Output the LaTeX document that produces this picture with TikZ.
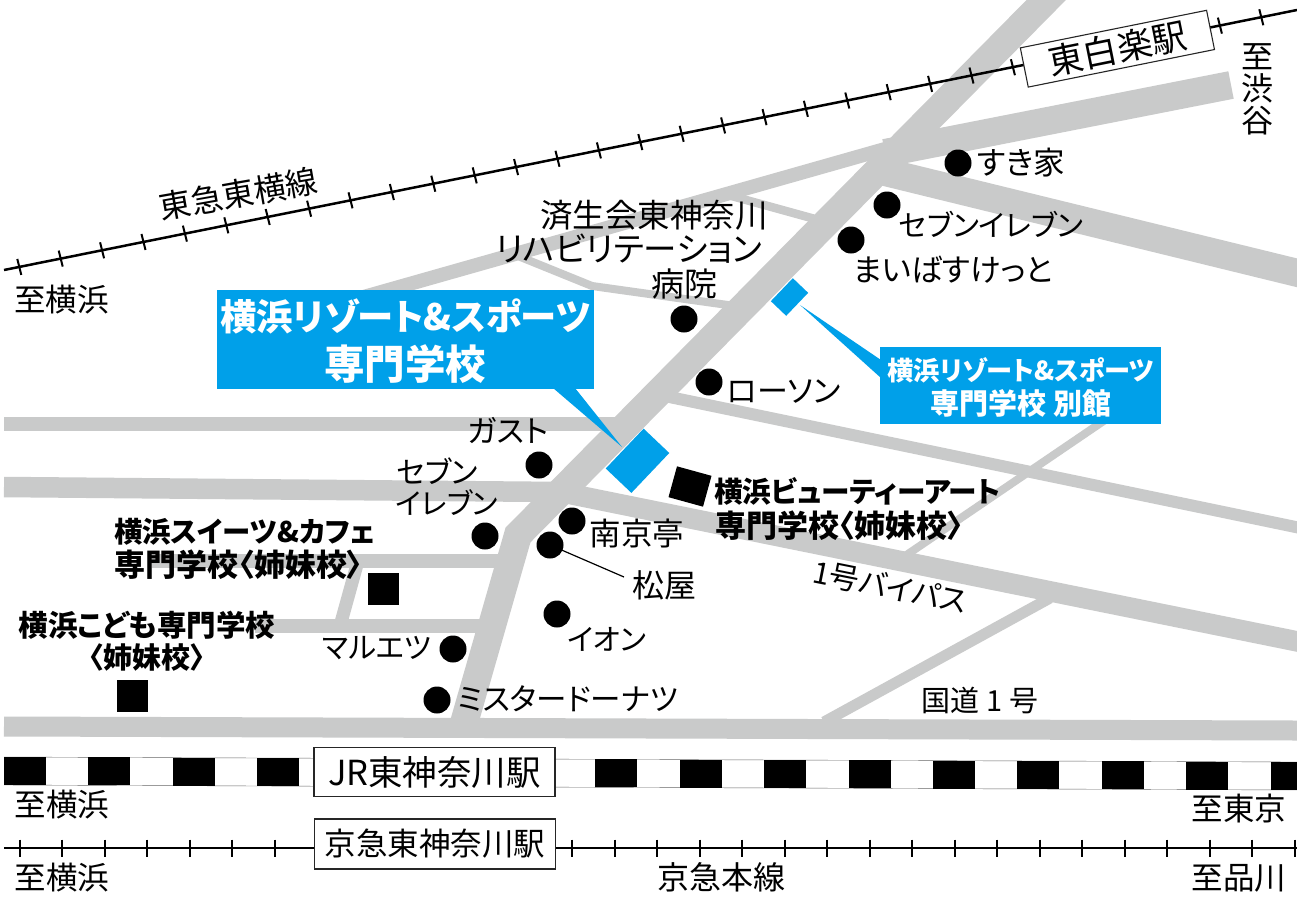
\documentclass[tikz,border=0pt]{standalone}
\usepackage{fontspec}
\setmainfont{Noto Sans CJK JP}[RawFeature={+palt}]
\definecolor{roadgray}{HTML}{C9CACA}
\definecolor{schoolblue}{HTML}{00A0E9}
\tikzset{
	road/.style={draw=roadgray,line width=#1,line join=miter,line cap=butt},
	lbl/.style={inner sep=0pt,font=\fontsize{#1}{#1}\selectfont},
	lblb/.style={inner sep=0pt,font=\fontsize{#1}{#1}\selectfont\bfseries},
	lblw/.style={lblb=#1,text=white},
	spot/.style={circle,fill=black,minimum size=27,inner sep=0pt},
	school/.style={fill=black,minimum width=31,minimum height=32,inner sep=0pt},
	bluebox/.style={fill=schoolblue,inner sep=0pt},
	stn/.style={draw=black!85,fill=white,line width=1.1pt,inner sep=0pt},
	rail/.style={line width=2.5pt},
	tick/.style={line width=2pt}
}
\begin{document}
\begin{tikzpicture}[x=1pt,y=-1pt]
	\useasboundingbox (0,0) rectangle (1297,908);
	\clip (0,0) rectangle (1297,908);
	\fill [white] (0,0) rectangle (1297,908);
  % road ends
	\node (0) at (1060,-14) {};
	\node (1) at (518,535) {};
	\node (2) at (462,730) {};
	\node (3) at (1231,85) {};
	\node (4) at (885,153) {};
	\node (5) at (885,172) {};
	\node (6) at (1310,276) {};
	\node (7) at (360,298) {};
	\node (8) at (885,149) {};
	\node (9) at (728,195) {};
	\node (10) at (815,219) {};
	\node (11) at (518,256) {};
	\node (12) at (592,286) {};
	\node (13) at (735,306) {};
	\node (14) at (4,423.5) {};
	\node (15) at (625,423.5) {};
	\node (16) at (4,487) {};
	\node (17) at (560,492) {};
	\node (18) at (1310,644) {};
	\node (19) at (655,394) {};
	\node (20) at (1310,530) {};
	\node (21) at (1105,420) {};
	\node (22) at (905,556) {};
	\node (23) at (1050,598) {};
	\node (24) at (824,722) {};
	\node (25) at (4,726.5) {};
	\node (26) at (1297,730.5) {};
	\node (27) at (152,561) {};
	\node (28) at (500,561) {};
	\node (29) at (255,626) {};
	\node (30) at (485,626) {};
	\node (31) at (358,561) {};
	\node (32) at (340,626) {};
  % roads
	\draw [road=28pt] (3.center) to (4.center);
	\draw [road=28pt] (5.center) to (6.center);
	\draw [road=14pt] (7.center) to (8.center);
	\draw [road=8.5pt] (9.center) to (10.center);
	\draw [road=8pt] (11.center) to (12.center) to (13.center);
	\draw [road=14pt] (14.center) to (15.center);
	\draw [road=20.5pt] (16.center) to (17.center) to (18.center);
	\draw [road=12pt] (19.center) to (20.center);
	\draw [road=8pt] (21.center) to (22.center);
	\draw [road=11pt] (23.center) to (24.center);
	\draw [road=20pt] (25.center) to (26.center);
	\draw [road=14pt] (27.center) to (28.center);
	\draw [road=14pt] (29.center) to (30.center);
	\draw [road=13pt] (31.center) to (32.center);
	\draw [road=28pt] (0.center) to (1.center) to (2.center);
  % toyoko line
	\node (33) at (4,270) {};
	\node (34) at (1297,10) {};
	\draw [rail] (33.center) to (34.center);
	\foreach \k [evaluate=\k as \xa using 19.3+41.4*\k, evaluate=\k as \ya using 270-0.201*(\xa-4)] in {0,...,24,29,30}
		\draw [tick] ({\xa-2},{\ya-8}) -- ({\xa+2},{\ya+8});
	\node [stn,rotate=11.4,minimum width=190,minimum height=40,lbl=35] (35) at (1117.4,48.7) {東白楽駅};
  % jr line
	\node (36) at (4,757) {};
	\node (37) at (1297,762) {};
	\node (38) at (4,785) {};
	\node (39) at (1297,790) {};
	\draw [black!60] (36.center) to (37.center);
	\draw [black!60] (38.center) to (39.center);
	\foreach \k [evaluate=\k as \xa using 4+84.45*\k, evaluate=\k as \ya using 757+0.00386*\xa] in {0,...,15}
		\fill ({\xa},{\ya}) rectangle ++(42,28);
	\node [stn,minimum width=241,minimum height=49,lbl=34.5] (40) at (434.5,772) {JR東神奈川駅};
  % keikyu line
	\node (41) at (4,848) {};
	\node (42) at (1297,848) {};
	\draw [rail] (41.center) to (42.center);
	\foreach \k [evaluate=\k as \xa using 19.5+42.5*\k] in {0,...,6,13,14,...,30}
		\draw [tick] ({\xa},839.5) -- ({\xa},856.5);
	\node [stn,minimum width=241,minimum height=50,lbl=31.5] (43) at (435,844) {京急東神奈川駅};
  % schools
	\node [bluebox,rotate=46.5,minimum width=55,minimum height=35.4] (44) at (637.5,460.75) {};
	\node [bluebox,rotate=46.3,minimum width=31.8,minimum height=21.2] (45) at (789.5,297) {};
	\node [bluebox,minimum width=377,minimum height=99] (46) at (405.5,339.5) {};
	\node [bluebox,minimum width=281,minimum height=77] (47) at (1020.5,385.5) {};
	\node (48) at (553,388) {};
	\node (49) at (575,388) {};
	\node (50) at (622,447) {};
	\node (51) at (800,305) {};
	\node (52) at (881,360) {};
	\node (53) at (881,378) {};
	\fill [schoolblue] (48.center) -- (49.center) -- (50.center) -- cycle;
	\fill [schoolblue] (51.center) -- (52.center) -- (53.center) -- cycle;
	\node [school,rotate=-15.4,minimum width=35.8] (54) at (690,486.5) {};
	\node [school] (55) at (383.5,589) {};
	\node [school] (56) at (132,696) {};
  % shops
	\node [spot] (57) at (958,163) {};
	\node [spot] (58) at (887,205) {};
	\node [spot] (59) at (851,240) {};
	\node [spot] (60) at (684,319) {};
	\node [spot] (61) at (709,382) {};
	\node [spot] (62) at (539,465) {};
	\node [spot] (63) at (485,536) {};
	\node [spot] (64) at (572,521) {};
	\node [spot] (65) at (550,545) {};
	\node [spot] (66) at (557,614) {};
	\node [spot] (67) at (453,649) {};
	\node [spot] (68) at (437,700) {};
	\node (69) at (624,577) {};
	\draw [line width=1.2pt] (65.center) to (69.center);
  % labels
	\node [lbl=31.5] at (61.5,300) {至横浜};
	\node [lbl=32,rotate=10] at (238.5,194) {東急東横線};
	\node [lbl=32.5] at (654,215) {済生会東神奈川};
	\node [lbl=33.5] at (629,249) {リハビリテーション};
	\node [lbl=33] at (684.5,284) {病院};
	\node [lblw=36.3] at (405.5,316) {横浜リゾート\&スポーツ};
	\node [lblw=40.5] at (405,364) {専門学校};
	\node [lblw=26.2] at (1021,370) {横浜リゾート\&スポーツ};
	\node [lblw=29] at (1021,403.5) {専門学校 別館};
	\node [lbl=32,align=center,font=\fontsize{32}{32}\selectfont] at (1257,89) {至\\渋\\谷};
	\node [lbl=31.5] at (1021,163) {すき家};
	\node [lbl=29.5] at (991,224) {セブンイレブン};
	\node [lbl=31] at (953,270) {まいばすけっと};
	\node [lbl=31] at (784,392) {ローソン};
	\node [lbl=30.5] at (508,431) {ガスト};
	\node [lbl=30] at (437,471) {セブン};
	\node [lbl=29] at (447,503) {イレブン};
	\node [lbl=31.5] at (637,534) {南京亭};
	\node [lbl=32] at (664,585) {松屋};
	\node [lbl=29.5] at (607,639) {イオン};
	\node [lbl=29.5] at (377,648) {マルエツ};
	\node [lbl=30.5] at (568,699) {ミスタードーナツ};
	\node [lblb=28.6] at (857.5,491) {横浜ビューティーアート};
	\node [lblb=31] at (839,526) {専門学校〈姉妹校〉};
	\node [lblb=28.4] at (245,532) {横浜スイーツ\&カフェ};
	\node [lblb=31] at (238.5,565) {専門学校〈姉妹校〉};
	\node [lblb=29.5] at (147,625) {横浜こども専門学校};
	\node [lblb=29] at (147,658) {〈姉妹校〉};
	\node [lbl=30,rotate=-11.3] at (890,587) {1号バイパス};
	\node [lbl=29] at (980,700) {国道 1 号};
	\node [lbl=31.5] at (62,805) {至横浜};
	\node [lbl=31.5] at (62,878) {至横浜};
	\node [lbl=31.5] at (1239,808) {至東京};
	\node [lbl=31.5] at (1239,878) {至品川};
	\node [lbl=32] at (721,877) {京急本線};
\end{tikzpicture}
\end{document}
